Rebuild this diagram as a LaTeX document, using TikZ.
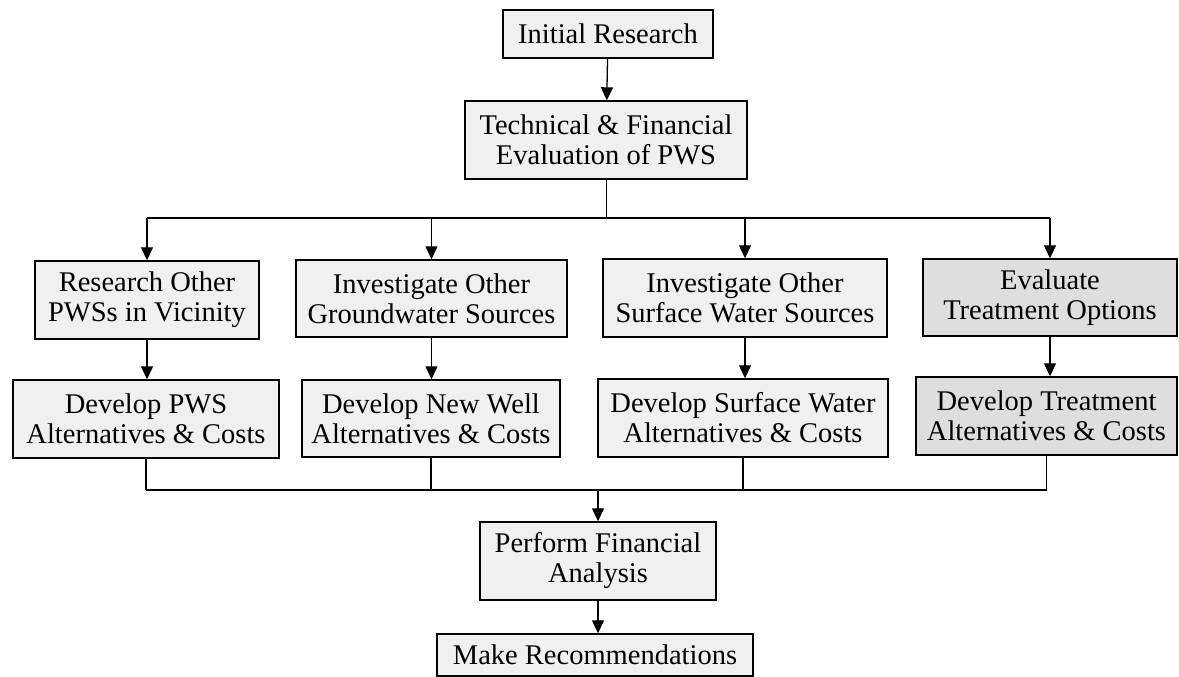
\documentclass[tikz,border=0pt]{standalone}
\usepackage{fontspec}
\setmainfont{Liberation Serif}
\usetikzlibrary{arrows.meta}
\begin{document}
\begin{tikzpicture}[x=1pt,y=-1pt,
  stepbox/.style={draw=black, line width=1.4pt, fill=black!6, inner sep=0pt,
    align=center, font=\fontsize{28.5}{30}\selectfont},
  darkbox/.style={stepbox, fill=black!13},
  link/.style={line width=1.3pt},
  flow/.style={link, -{Triangle[width=12pt,length=13pt]}}]
\useasboundingbox (0,0) rectangle (1179,677);

% top of the chart
\node[stepbox, minimum width=210, minimum height=48] (init) at (608,34) {Initial Research};
\node[stepbox, minimum width=282, minimum height=78] (tech) at (606,140) {Technical \& Financial\\Evaluation of PWS};

% four lines of investigation
\node[stepbox, minimum width=224, minimum height=78] (res) at (147,300) {Research Other\\PWSs in Vicinity};
\node[stepbox, minimum width=271, minimum height=77] (gw) at (431.5,298.5) {Investigate Other\\Groundwater Sources};
\node[stepbox, minimum width=284, minimum height=78] (sw) at (745,298) {Investigate Other\\Surface Water Sources};
\node[darkbox, minimum width=254, minimum height=77] (eval) at (1050,297.5) {Evaluate\\Treatment Options};

% alternatives and costs
\node[stepbox, minimum width=266, minimum height=78] (dpws) at (146,419) {Develop PWS\\Alternatives \& Costs};
\node[stepbox, minimum width=258, minimum height=77] (dwell) at (431,418.5) {Develop New Well\\Alternatives \& Costs};
\node[stepbox, minimum width=290, minimum height=78] (dsw) at (743,418) {Develop Surface Water\\Alternatives \& Costs};
\node[darkbox, minimum width=261, minimum height=78] (dtr) at (1046.5,416) {Develop Treatment\\Alternatives \& Costs};

% conclusion
\node[stepbox, minimum width=236, minimum height=78] (fin) at (598,561) {Perform Financial\\Analysis};
\node[stepbox, minimum width=316, minimum height=42] (rec) at (595,655) {Make Recommendations};

% junction points of the branching and merging lines
\coordinate (split) at (604,218);
\coordinate (merge) at (598,490);

\draw[flow] (init) -- (tech);
\draw[line width=0.8pt] (tech.south) -- (tech.south |- split);
\draw[link] (res.north |- split) -- (eval.north |- split);
\foreach \b in {res,gw,sw,eval}
  \draw[flow] (\b.north |- split) -- (\b.north);

\draw[flow] (res) -- (res.south |- dpws.north);
\draw[flow] (gw) -- (gw.south |- dwell.north);
\draw[flow] (sw) -- (sw.south |- dsw.north);
\draw[flow] (eval) -- (eval.south |- dtr.north);

\foreach \d in {dpws,dwell,dsw,dtr}
  \draw[link] (\d.south) -- (\d.south |- merge);
\draw[link] (dpws.south |- merge) -- (dtr.south |- merge);
\draw[flow] (fin.north |- merge) -- (fin.north);
\draw[flow] (fin) -- (fin.south |- rec.north);
\end{tikzpicture}
\end{document}
